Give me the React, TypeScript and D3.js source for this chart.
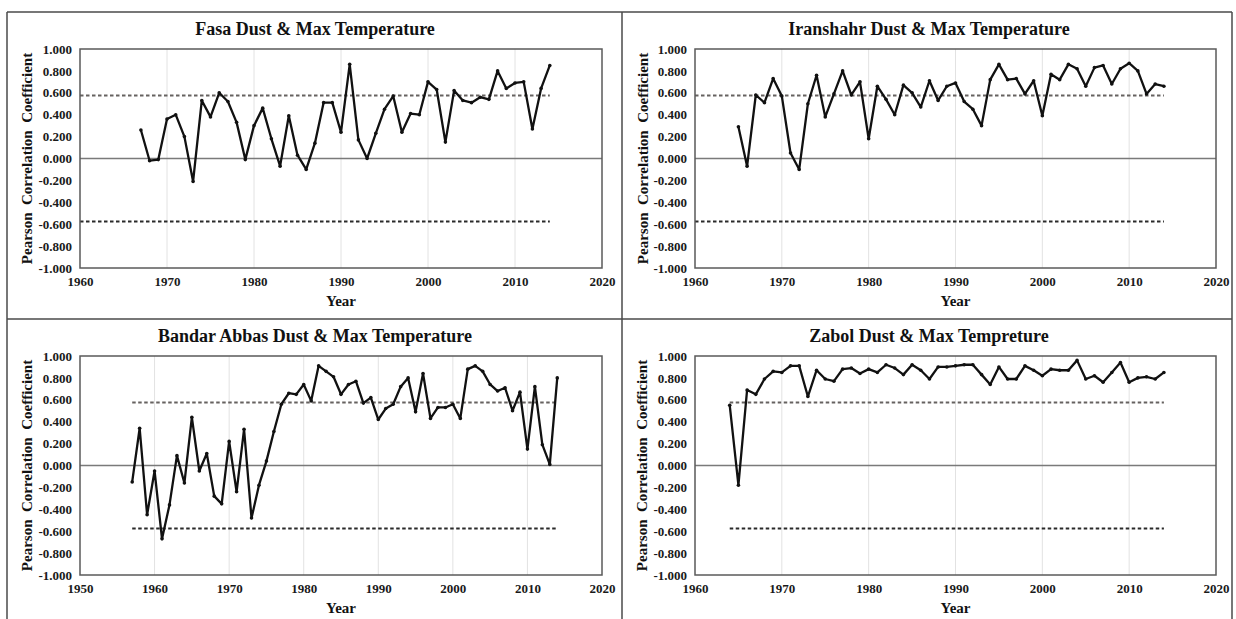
import { useEffect, useRef } from "react";
import * as d3 from "d3";

// Pearson correlation, dust days vs max temperature, per year
const fasaStart = 1967;
const fasaValues = [
  0.26, -0.02, -0.01, 0.36, 0.4, 0.2, -0.21, 0.53, 0.38, 0.6,
  0.52, 0.33, -0.01, 0.3, 0.46, 0.18, -0.07, 0.39, 0.03, -0.1,
  0.14, 0.51, 0.51, 0.24, 0.86, 0.17, 0.0, 0.23, 0.45, 0.57,
  0.24, 0.41, 0.4, 0.7, 0.63, 0.15, 0.62, 0.53, 0.51, 0.56,
  0.54, 0.8, 0.64, 0.69, 0.7, 0.27, 0.64, 0.85,
];

const iranshahrStart = 1965;
const iranshahrValues = [
  0.29, -0.07, 0.58, 0.51, 0.73, 0.57, 0.05, -0.1, 0.5, 0.76,
  0.38, 0.59, 0.8, 0.58, 0.7, 0.18, 0.66, 0.54, 0.4, 0.67,
  0.6, 0.47, 0.71, 0.53, 0.66, 0.69, 0.52, 0.45, 0.3, 0.72,
  0.86, 0.72, 0.73, 0.59, 0.71, 0.39, 0.77, 0.72, 0.86, 0.82,
  0.66, 0.83, 0.85, 0.68, 0.82, 0.87, 0.8, 0.59, 0.68, 0.66,
];

const bandarStart = 1957;
const bandarValues = [
  -0.15, 0.34, -0.45, -0.05, -0.67, -0.36, 0.09, -0.16, 0.44, -0.05,
  0.11, -0.28, -0.35, 0.22, -0.24, 0.33, -0.48, -0.18, 0.04, 0.31,
  0.56, 0.66, 0.65, 0.74, 0.59, 0.91, 0.86, 0.81, 0.65, 0.74,
  0.77, 0.57, 0.62, 0.42, 0.52, 0.56, 0.72, 0.8, 0.49, 0.84,
  0.43, 0.53, 0.53, 0.56, 0.43, 0.88, 0.91, 0.86, 0.74, 0.68,
  0.71, 0.5, 0.67, 0.15, 0.72, 0.19, 0.01, 0.8,
];

const zabolStart = 1964;
const zabolValues = [
  0.55, -0.18, 0.69, 0.65, 0.79, 0.86, 0.85, 0.91, 0.91, 0.63,
  0.87, 0.79, 0.77, 0.88, 0.89, 0.84, 0.88, 0.85, 0.92, 0.89,
  0.83, 0.92, 0.87, 0.79, 0.9, 0.9, 0.91, 0.92, 0.92, 0.83,
  0.74, 0.9, 0.79, 0.79, 0.91, 0.87, 0.82, 0.88, 0.87, 0.87,
  0.96, 0.79, 0.82, 0.76, 0.85, 0.94, 0.76, 0.8, 0.81, 0.79,
  0.85,
];

const endYear = 2014;
const critical = 0.576;
const yTicks = [-1, -0.8, -0.6, -0.4, -0.2, 0, 0.2, 0.4, 0.6, 0.8, 1];
const xTicks1960 = [1960, 1970, 1980, 1990, 2000, 2010, 2020];
const xTicks1950 = [1950, 1960, 1970, 1980, 1990, 2000, 2010, 2020];

const FONT = "'Liberation Serif', 'Times New Roman', serif";

const panels = [
  { title: "Fasa Dust & Max Temperature", start: fasaStart, values: fasaValues, xTicks: xTicks1960, dashFrom: 1960,
    x0: 80, x1: 602, y0: 49, y1: 268, cx: 315, labX: 27 },
  { title: "Iranshahr Dust & Max Temperature", start: iranshahrStart, values: iranshahrValues, xTicks: xTicks1960, dashFrom: 1960,
    x0: 695, x1: 1216, y0: 49, y1: 268, cx: 929, labX: 643 },
  { title: "Bandar Abbas Dust & Max Temperature", start: bandarStart, values: bandarValues, xTicks: xTicks1950, dashFrom: bandarStart,
    x0: 80, x1: 602, y0: 356, y1: 575, cx: 315, labX: 27 },
  { title: "Zabol Dust & Max Tempreture", start: zabolStart, values: zabolValues, xTicks: xTicks1960, dashFrom: zabolStart,
    x0: 695, x1: 1216, y0: 356, y1: 575, cx: 929, labX: 642 },
];

export default function App() {
  const svgRef = useRef<SVGSVGElement>(null);

  useEffect(() => {
    const svg = d3.select(svgRef.current);
    svg.selectAll("*").remove();
    svg.append("rect").attr("width", 1236).attr("height", 619).attr("fill", "#fff");

    // outer frame and cell dividers
    const frame = svg.append("g").attr("stroke", "#4a4a4a").attr("stroke-width", 1.5);
    frame.append("line").attr("x1", 7).attr("x2", 1232).attr("y1", 12).attr("y2", 12);
    frame.append("line").attr("x1", 7).attr("x2", 7).attr("y1", 12).attr("y2", 619);
    frame.append("line").attr("x1", 1232).attr("x2", 1232).attr("y1", 12).attr("y2", 619);
    frame.append("line").attr("x1", 622).attr("x2", 622).attr("y1", 12).attr("y2", 619);
    frame.append("line").attr("x1", 7).attr("x2", 1232).attr("y1", 319).attr("y2", 319);

    panels.forEach(p => {
      const years = d3.range(p.start, endYear + 1);
      const pts = years.map((yr, i) => ({ year: yr, v: p.values[i] }));
      const xt = p.xTicks;
      const x = d3.scaleLinear().domain([xt[0], xt[xt.length - 1]]).range([p.x0, p.x1]);
      const y = d3.scaleLinear().domain([-1, 1]).range([p.y1, p.y0]);
      const g = svg.append("g");

      // vertical gridlines
      g.selectAll(".grid").data(xt.slice(1, -1)).join("line")
        .attr("x1", d => x(d)).attr("x2", d => x(d))
        .attr("y1", p.y0).attr("y2", p.y1)
        .attr("stroke", "#e2e2e2").attr("stroke-width", 1);

      // zero line
      g.append("line").attr("x1", p.x0).attr("x2", p.x1).attr("y1", y(0)).attr("y2", y(0))
        .attr("stroke", "#7a7a7a").attr("stroke-width", 1.5);

      // significance thresholds
      g.append("line").attr("x1", x(p.dashFrom)).attr("x2", x(endYear))
        .attr("y1", y(critical)).attr("y2", y(critical))
        .attr("stroke", "#666260").attr("stroke-width", 2).attr("stroke-dasharray", "3.5,2.5");
      g.append("line").attr("x1", x(p.dashFrom)).attr("x2", x(endYear))
        .attr("y1", y(-critical)).attr("y2", y(-critical))
        .attr("stroke", "#2a2a2a").attr("stroke-width", 2).attr("stroke-dasharray", "3.5,2.5");

      // plot border
      g.append("rect").attr("x", p.x0).attr("y", p.y0)
        .attr("width", p.x1 - p.x0).attr("height", p.y1 - p.y0)
        .attr("fill", "none").attr("stroke", "#5a5a5a").attr("stroke-width", 1.5);

      // series
      const line = d3.line<{ year: number; v: number }>().x(d => x(d.year)).y(d => y(d.v));
      g.append("path").datum(pts).attr("d", line)
        .attr("fill", "none").attr("stroke", "#111").attr("stroke-width", 2.3)
        .attr("stroke-linejoin", "round");
      g.selectAll(".pt").data(pts).join("circle")
        .attr("cx", d => x(d.year)).attr("cy", d => y(d.v)).attr("r", 1.8).attr("fill", "#111");

      // axes
      g.append("g").attr("transform", `translate(${p.x0},0)`)
        .call(d3.axisLeft(y).tickValues(yTicks).tickSize(0).tickPadding(8).tickFormat(d => (+d).toFixed(3)))
        .call(ax => ax.select(".domain").remove())
        .call(ax => ax.selectAll("text").attr("fill", "#1a1a1a").attr("font-size", "13px")
          .attr("font-weight", "bold").attr("font-family", FONT));

      g.append("g").attr("transform", `translate(0,${p.y1})`)
        .call(d3.axisBottom(x).tickValues(xt).tickSize(0).tickPadding(9).tickFormat(d3.format("d")))
        .call(ax => ax.select(".domain").remove())
        .call(ax => ax.selectAll("text").attr("fill", "#1a1a1a").attr("font-size", "13px")
          .attr("font-weight", "bold").attr("font-family", FONT));

      // labels
      g.append("text").attr("x", p.cx).attr("y", p.y0 - 20).attr("dy", "0.35em")
        .attr("text-anchor", "middle").attr("font-family", FONT).attr("font-weight", "bold")
        .attr("font-size", "18px").attr("fill", "#111").text(p.title);
      g.append("text").attr("x", (p.x0 + p.x1) / 2).attr("y", p.y1 + 33).attr("dy", "0.35em")
        .attr("text-anchor", "middle").attr("font-family", FONT).attr("font-weight", "bold")
        .attr("font-size", "15px").attr("fill", "#111").text("Year");
      g.append("text")
        .attr("transform", `translate(${p.labX},${(p.y0 + p.y1) / 2}) rotate(-90)`)
        .attr("dy", "0.35em").attr("text-anchor", "middle").attr("font-family", FONT)
        .attr("font-weight", "bold").attr("font-size", "15px").attr("fill", "#111")
        .style("white-space", "pre").text("Pearson  Correlation  Coefficient");
    });
  }, []);

  return (
    <svg ref={svgRef} width={1236} height={619}
      style={{ position: "absolute", left: 0, top: 0, display: "block" }} />
  );
}
